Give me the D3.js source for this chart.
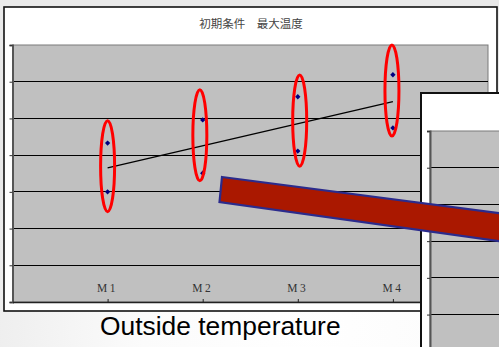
<!DOCTYPE html>
<html>
<head>
<meta charset="utf-8">
<script src="https://cdn.jsdelivr.net/npm/d3@7"></script>
<style>
html,body{margin:0;padding:0;background:#eeeeee;overflow:hidden;}
svg{display:block;}
</style>
</head>
<body>
<svg id="chart" width="499" height="347"></svg>
<script>
// ---- data ----
const categories = ["M1", "M2", "M3", "M4"];
const categoryX = [1, 2, 3, 4];
const seriesHigh = [4.33, 4.96, 5.59, 6.19];
const seriesLow = [3.00, 3.51, 4.11, 4.74];
const ellipseX = [1.0, 1.97, 3.02, 3.99];
const ellipseCenter = [3.70, 4.54, 4.94, 5.76];
const ellipseHalfHeight = 1.24;
const yTicks = [0, 1, 2, 3, 4, 5, 6, 7];
const titleText = "初期条件　最大温度";
const captionText = "Outside temperature";

const svg = d3.select("#chart");

// background
const defs = svg.append("defs");
const bg = defs.append("radialGradient").attr("id", "bg")
  .attr("cx", "0.62").attr("cy", "0.95").attr("r", "0.75");
bg.append("stop").attr("offset", "0").attr("stop-color", "#ffffff");
bg.append("stop").attr("offset", "0.45").attr("stop-color", "#fbfbfb");
bg.append("stop").attr("offset", "1").attr("stop-color", "#e9e9e9");
svg.append("rect").attr("width", 499).attr("height", 347).attr("fill", "url(#bg)");

// ---- panel 1 ----
const P = {left: 4, top: 7, right: 497, bottom: 311};
svg.append("rect")
  .attr("x", P.left).attr("y", P.top)
  .attr("width", P.right - P.left).attr("height", P.bottom - P.top)
  .attr("fill", "#ffffff").attr("stroke", "#111").attr("stroke-width", 1.6);

const plot = {left: 12.5, top: 45, right: 488, bottom: 302};
const x = d3.scaleLinear().domain([0, 5]).range([plot.left, plot.right]);
const y = d3.scaleLinear().domain([0, 7]).range([plot.bottom, plot.top]);

svg.append("rect")
  .attr("x", plot.left).attr("y", plot.top)
  .attr("width", plot.right - plot.left).attr("height", plot.bottom - plot.top)
  .attr("fill", "#c0c0c0").attr("stroke", "#7a7a7a").attr("stroke-width", 1);

// gridlines
svg.append("g").selectAll("line")
  .data(yTicks.filter(d => d > 0 && d < 7)).join("line")
  .attr("x1", plot.left).attr("x2", plot.right)
  .attr("y1", d => y(d)).attr("y2", d => y(d))
  .attr("stroke", "#000").attr("stroke-width", 1).attr("shape-rendering", "crispEdges");

// y axis
const yAxis = svg.append("g").attr("transform", `translate(${plot.left},0)`)
  .call(d3.axisLeft(y).tickValues(yTicks).tickSize(3).tickFormat(""));
yAxis.select(".domain").attr("stroke", "#555").attr("stroke-width", 2);
yAxis.selectAll(".tick line").attr("stroke", "#333");

// x axis
const xAxis = svg.append("g").attr("transform", `translate(0,${plot.bottom})`)
  .call(d3.axisTop(x).tickValues(categoryX).tickSize(3).tickSizeOuter(0).tickFormat(""));
xAxis.select(".domain").attr("stroke", "#222").attr("stroke-width", 1.5);
xAxis.selectAll(".tick line").attr("stroke", "#222");

svg.append("g").selectAll("text")
  .data(categories).join("text")
  .attr("x", (d, i) => x(categoryX[i]))
  .attr("y", plot.bottom - 10.5)
  .attr("text-anchor", "middle")
  .attr("font-family", "'Liberation Serif','DejaVu Serif',serif")
  .attr("font-size", 11.5)
  .attr("letter-spacing", 2.5)
  .attr("fill", "#333")
  .text(d => d);

// title
svg.append("text")
  .attr("x", 251).attr("y", 27.5)
  .attr("text-anchor", "middle")
  .attr("font-family", "'Noto Sans CJK JP','Noto Sans CJK SC',sans-serif")
  .attr("font-size", 11.5)
  .attr("fill", "#444")
  .text(titleText);

// trend line (least-squares fit through all points)
const pts = [];
categoryX.forEach((cx, i) => { pts.push([cx, seriesHigh[i]]); pts.push([cx, seriesLow[i]]); });
const mx = d3.mean(pts, d => d[0]), my = d3.mean(pts, d => d[1]);
const slope = d3.sum(pts, d => (d[0] - mx) * (d[1] - my)) / d3.sum(pts, d => (d[0] - mx) ** 2);
const icpt = my - slope * mx;
const x0 = d3.min(categoryX), x1 = d3.max(categoryX);
svg.append("line")
  .attr("x1", x(x0)).attr("y1", y(icpt + slope * x0))
  .attr("x2", x(x1)).attr("y2", y(icpt + slope * x1))
  .attr("stroke", "#000").attr("stroke-width", 1.4);

// markers (square rotated 45° = Excel diamond)
const marker = d3.symbol().type(d3.symbolSquare).size(14);
svg.append("g").selectAll("path")
  .data(pts).join("path")
  .attr("d", marker)
  .attr("transform", d => `translate(${x(d[0])},${y(d[1])}) rotate(45)`)
  .attr("fill", "#000080");

// red ellipses
const pxPerUnit = y(0) - y(1);
svg.append("g").selectAll("ellipse")
  .data(ellipseCenter).join("ellipse")
  .attr("cx", (d, i) => x(ellipseX[i]))
  .attr("cy", d => y(d))
  .attr("rx", 7)
  .attr("ry", ellipseHalfHeight * pxPerUnit)
  .attr("fill", "none").attr("stroke", "#ff0000").attr("stroke-width", 3);

// caption
svg.append("text")
  .attr("x", 100).attr("y", 335)
  .attr("font-family", "'Liberation Sans',Arial,sans-serif")
  .attr("font-size", 26.4)
  .attr("fill", "#000")
  .text(captionText);

// ---- panel 2 (overlapping) ----
const Q = {left: 421, top: 93};
svg.append("rect")
  .attr("x", Q.left).attr("y", Q.top)
  .attr("width", 120).attr("height", 300)
  .attr("fill", "#ffffff").attr("stroke", "#111").attr("stroke-width", 2);
const plot2 = {left: 430, top: 131, bottom: 388};
const y2 = d3.scaleLinear().domain([0, 7]).range([plot2.bottom, plot2.top]);
svg.append("rect")
  .attr("x", plot2.left).attr("y", plot2.top)
  .attr("width", 100).attr("height", 300)
  .attr("fill", "#c0c0c0").attr("stroke", "#7a7a7a").attr("stroke-width", 1);
svg.append("g").selectAll("line")
  .data(yTicks.filter(d => d > 0 && d < 7)).join("line")
  .attr("x1", plot2.left).attr("x2", 499)
  .attr("y1", d => y2(d)).attr("y2", d => y2(d))
  .attr("stroke", "#000").attr("stroke-width", 1).attr("shape-rendering", "crispEdges");
const yAxis2 = svg.append("g").attr("transform", `translate(${plot2.left},0)`)
  .call(d3.axisLeft(y2).tickValues(yTicks).tickSize(3).tickFormat(""));
yAxis2.select(".domain").attr("stroke", "#555").attr("stroke-width", 2);
yAxis2.selectAll(".tick line").attr("stroke", "#333");

// ---- red block arrow annotation ----
svg.append("polygon")
  .attr("points", "222,177 506,214 506,242 219.5,202")
  .attr("fill", "#aa1800")
  .attr("stroke", "#2b2b8c").attr("stroke-width", 2.2)
  .attr("stroke-linejoin", "miter");
</script>
</body>
</html>
